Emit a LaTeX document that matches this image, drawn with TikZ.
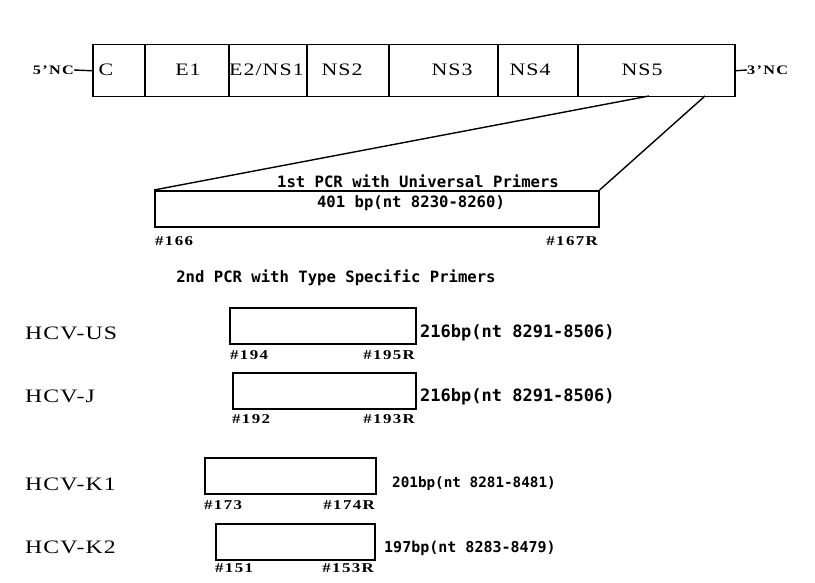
\documentclass[tikz,border=0pt]{standalone}
\usepackage{fontspec}
\setmainfont{Liberation Serif}
\newfontfamily\gfont[FakeStretch=1.25,LetterSpace=6]{Liberation Serif}
\newfontfamily\pfont[FakeStretch=1.25,LetterSpace=10]{Liberation Serif}
\newfontfamily\mfont{DejaVu Sans Mono}
\begin{document}
\begin{tikzpicture}[x=1pt,y=-1pt,
  seg/.style={draw, line width=1.5pt, inner sep=0pt, minimum height=52pt, anchor=north west},
  pbox/.style={draw, line width=1.6pt, inner sep=0pt, minimum height=36pt, anchor=north west},
  glab/.style={inner sep=0pt, font=\gfont\fontsize{17.5}{17.5}\selectfont},
  nclab/.style={inner sep=0pt, font=\pfont\bfseries\fontsize{13}{13}\selectfont},
  hlab/.style={inner sep=0pt, anchor=west, font=\gfont\fontsize{19}{19}\selectfont},
  plab/.style={inner sep=0pt, font=\pfont\bfseries\fontsize{13.5}{13.5}\selectfont},
  mtext/.style={inner sep=0pt, font=\mfont\bfseries\fontsize{15.6}{15.6}\selectfont},
  line/.style={line width=1.4pt}]
\useasboundingbox (0,0) rectangle (815,583);
% genome
\node[seg, minimum width=52pt] (C) at (92,44) {};
\node[seg, minimum width=84pt] (E1) at (144,44) {};
\node[seg, minimum width=78pt] (E2) at (228,44) {};
\node[seg, minimum width=82pt] (NS2) at (306,44) {};
\node[seg, minimum width=109pt] (NS3) at (388,44) {};
\node[seg, minimum width=80pt] (NS4) at (497,44) {};
\node[seg, minimum width=157pt] (NS5) at (577,44) {};
\node[glab] (tC) at (106,70) {C};
\node[glab] (tE1) at (188,70) {E1};
\node[glab, anchor=west] (tE2) at (229,70) {E2/NS1};
\node[glab] (tNS2) at (342,70) {NS2};
\node[glab] (tNS3) at (452,70) {NS3};
\node[glab] (tNS4) at (530,70) {NS4};
\node[glab] (tNS5) at (642,70) {NS5};
\node[nclab, anchor=east] (n5) at (74,70) {5’NC};
\node[nclab, anchor=west] (n3) at (747,70) {3’NC};
\draw[line] (n5.east) -- (C.west);
\draw[line] (NS5.east) -- (n3.west);
% first PCR
\node[pbox, minimum width=444pt] (pcr) at (154,190) {};
\coordinate (s1) at (649,96);
\coordinate (s2) at (705,96);
\draw[line] (s1) -- (pcr.north west);
\draw[line] (s2) -- (pcr.north east);
\node[mtext] (t1) at (418,181) {1st PCR with Universal Primers};
\node[mtext] (t2) at (411,203) {401 bp(nt 8230-8260)};
\node[plab, anchor=west] (p166) at (155,241) {\#166};
\node[plab, anchor=east] (p167) at (598,241) {\#167R};
\node[mtext] (t3) at (336,278) {2nd PCR with Type Specific Primers};
% HCV-US
\node[hlab] (lUS) at (25,333) {HCV-US};
\node[pbox, minimum width=186pt] (bUS) at (229,307) {};
\node[plab, anchor=west] (p194) at (230,355) {\#194};
\node[plab, anchor=east] (p195) at (415,355) {\#195R};
\node[mtext, anchor=west, font=\mfont\bfseries\fontsize{17}{17}\selectfont] (sUS) at (420,333) {216bp(nt 8291-8506)};
% HCV-J
\node[hlab] (lJ) at (25,396) {HCV-J};
\node[pbox, minimum width=183pt] (bJ) at (232,372) {};
\node[plab, anchor=west] (p192) at (232,419) {\#192};
\node[plab, anchor=east] (p193) at (415,419) {\#193R};
\node[mtext, anchor=west, font=\mfont\bfseries\fontsize{17}{17}\selectfont] (sJ) at (420,397) {216bp(nt 8291-8506)};
% HCV-K1
\node[hlab] (lK1) at (25,484) {HCV-K1};
\node[pbox, minimum width=171pt] (bK1) at (204,457) {};
\node[plab, anchor=west] (p173) at (204,505) {\#173};
\node[plab, anchor=east] (p174) at (375,505) {\#174R};
\node[mtext, anchor=west, font=\mfont\bfseries\fontsize{14.3}{14.3}\selectfont] (sK1) at (392,484) {201bp(nt 8281-8481)};
% HCV-K2
\node[hlab] (lK2) at (25,547) {HCV-K2};
\node[pbox, minimum width=159pt] (bK2) at (215,523) {};
\node[plab, anchor=west] (p151) at (215,568) {\#151};
\node[plab, anchor=east] (p153) at (374,568) {\#153R};
\node[mtext, anchor=west, font=\mfont\bfseries\fontsize{15}{15}\selectfont] (sK2) at (384,548) {197bp(nt 8283-8479)};
\end{tikzpicture}
\end{document}
